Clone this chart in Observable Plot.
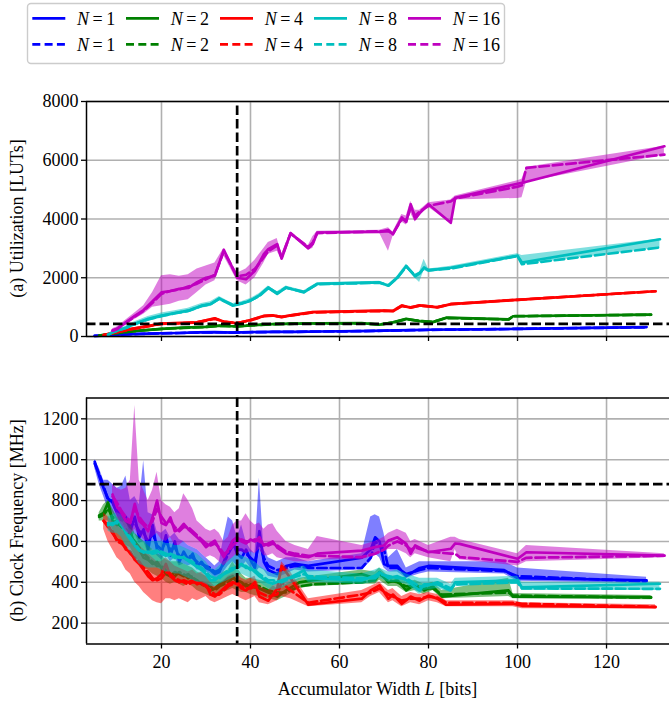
<!DOCTYPE html>
<html>
<head>
<meta charset="utf-8">
<script src="https://cdn.jsdelivr.net/npm/d3@7"></script>
<script src="https://cdn.jsdelivr.net/npm/@observablehq/plot@0.6"></script>
<style>
  body { margin: 0; background: #fff; }
  #wrap { position: relative; width: 669px; height: 702px; overflow: hidden; background: #fff; font-family: 'Liberation Serif', serif; }
  #wrap svg { position: absolute; left: 0; }
  #wrap svg text { font-family: 'Liberation Serif', serif !important; }
</style>
</head>
<body>
<div id="wrap"></div>
<script>
// ---------- categories / ticks ----------
const seriesN = [1, 2, 4, 8, 16];
const seriesColors = ["#0000ff", "#008000", "#ff0000", "#00bfbf", "#bf00bf"];
const xTicks = [20, 40, 60, 80, 100, 120];
const utilTicks = [0, 2000, 4000, 6000, 8000];
const freqTicks = [200, 400, 600, 800, 1000, 1200];
const xDomain = [3.15, 134.15];
const utilDomain = [0, 8000];
const freqDomain = [98, 1302];
const refWidth = 37;      // vertical dashed line (bits)
const refLUT = 430;       // horizontal dashed line, panel (a)
const refFreq = 880;      // horizontal dashed line, panel (b)

// ---------- panel (a) Utilization: rows [L, solid, dashed, low, high] ----------
const util1 = [
  [5,20,20,10,30],[8,40,40,30,50],[10,60,55,45,70],[12,70,70,55,85],[15,90,85,75,105],
  [18,100,100,85,115],[20,110,105,95,125],[24,120,120,105,135],[28,140,135,120,155],
  [32,150,145,130,165],[36,130,135,115,150],[40,150,145,130,165],[45,160,155,140,175],
  [50,160,160,145,175],[56,170,170,155,185],[64,180,180,165,195],[70,200,195,180,215],
  [76,220,215,200,235],[80,230,225,210,245],[96,250,250,235,265],[100,260,260,245,280],
  [129,320,315,300,335]
];
const util2 = [
  [6,30,30,20,40],[10,120,115,100,135],[15,200,195,180,220],[20,260,255,240,280],
  [25,300,295,280,320],[30,330,325,310,350],[33,370,365,345,390],[37,340,345,320,360],
  [40,380,380,360,400],[45,420,420,400,440],[50,440,435,420,460],[56,445,445,425,465],
  [65,455,450,435,475],[69,400,410,380,430],[72,480,470,450,500],[75,600,590,560,620],
  [78,520,530,500,560],[81,490,495,470,520],[84,640,630,610,660],[98,580,580,560,600],
  [99,690,690,670,710],[130,745,740,725,765]
];
const util4 = [
  [7,50,50,35,65],[10,150,145,120,180],[13,250,240,210,280],[16,330,320,290,360],
  [20,440,430,400,470],[24,460,450,420,490],[28,480,480,450,510],[32,620,600,570,650],
  [34,500,510,480,540],[37,450,460,420,480],[40,560,550,520,590],[43,700,690,660,730],
  [45,720,710,680,750],[47,660,670,630,700],[49,720,710,690,750],[54,830,820,800,860],
  [70,880,870,850,910],[72,860,870,840,900],[74,1050,1040,1000,1090],[76,980,990,950,1020],
  [78,1060,1050,1020,1090],[82,990,1000,970,1020],[85,1100,1100,1080,1130],
  [100,1250,1250,1230,1280],[131,1540,1540,1520,1560]
];
const util8 = [
  [8,60,60,40,80],[9,146,140,110,180],[12,300,290,250,350],[14,430,420,370,500],
  [17,600,580,520,680],[20,710,700,620,800],[23,800,790,720,880],[26,880,870,800,960],
  [29,1050,1040,960,1120],[31,1100,1100,1020,1180],[33,1300,1280,1220,1360],
  [36,1050,1080,1000,1120],[38,1120,1130,1060,1180],[40,1220,1230,1150,1290],
  [42,1400,1380,1320,1460],[44,1670,1650,1580,1720],[46,1450,1480,1400,1520],
  [48,1670,1660,1600,1720],[52,1500,1520,1460,1560],[55,1790,1780,1740,1830],
  [69,1840,1830,1800,1880],[71,1730,1740,1690,1770],[73,2000,2000,1950,2060],
  [75,2400,2380,2320,2460],[77,2050,2080,1980,2120],[78,2150,2160,1840,2200],
  [79,2350,2330,2250,2630],[80,2250,2260,2180,2300],[85,2340,2310,2270,2390],
  [100,2750,2740,2680,2820],[101,2520,2460,2440,2760],[132,3310,3030,3020,3320]
];
const util16 = [
  [9,200,200,150,260],[10,260,250,200,320],[12,480,470,400,560],[14,700,680,580,800],
  [16,900,880,760,1050],[18,1200,1150,1000,1500],[20,1500,1450,1050,2070],
  [22,1550,1550,1100,2100],[24,1620,1600,1200,2050],[26,1650,1700,1250,2100],
  [28,1850,1800,1500,2300],[30,2000,1950,1750,2400],[32,2070,2100,1900,2500],
  [34,2950,2900,2750,3000],[37,2000,2050,1900,2150],[39,1950,2100,1750,2300],
  [41,2240,2300,2000,2600],[43,2800,2700,2500,3000],[44,2970,2900,2800,3200],
  [46,3140,3100,2900,3340],[47,2650,2700,2600,2800],[49,3520,3500,3450,3560],
  [53,3000,3050,2950,3100],[54,3150,3200,3000,3400],[55,3540,3520,3500,3580],
  [69,3560,3580,3520,3620],[71,3620,3580,2900,3700],[72,3480,3500,3400,3560],
  [74,4050,4000,3900,4150],[75,3900,3950,3800,4100],[76,4500,4400,4200,4600],
  [77,4000,4100,3900,4300],[78,4200,4250,4100,4300],[80,4500,4450,4400,4550],
  [85,3870,4600,3850,4650],[86,4720,4700,4650,4780],[100,5200,5100,4700,5300],
  [101,5230,5150,4720,5350],[102,5270,5740,5250,5760],[133,6475,6190,6180,6480]
];

// ---------- panel (b) Clock frequency: rows [L, solid, dashed, low, high] ----------
const freq1 = [
  [5,990,980,960,1000],[6,920,930,880,960],[7,860,870,820,900],[8,810,800,760,900],
  [9,790,800,740,880],[10,740,760,700,860],[11,700,720,660,870],[12,720,700,660,920],
  [13,650,680,610,800],[14,720,690,640,820],[15,620,650,590,780],[16,660,640,600,995],
  [17,560,600,540,740],[18,680,640,560,730],[19,560,580,530,650],[20,540,560,510,640],
  [21,630,600,540,660],[22,530,560,500,620],[23,600,570,520,640],[24,500,530,480,610],
  [25,550,520,490,600],[26,510,530,480,580],[27,540,520,490,570],[28,480,500,460,560],
  [29,500,490,460,540],[30,470,480,450,520],[31,460,470,440,500],[32,440,450,420,480],
  [33,450,460,420,500],[34,500,490,450,620],[35,560,540,480,720],[36,600,580,500,700],
  [37,540,560,480,620],[38,520,560,470,680],[39,560,540,500,600],[40,510,520,470,560],
  [41,470,500,440,540],[42,650,600,470,910],[43,500,520,460,560],[44,460,480,430,520],
  [46,440,460,420,500],[48,480,470,440,520],[50,490,480,460,520],[53,480,470,450,500],
  [65,520,470,460,540],[67,560,520,500,720],[68,620,600,540,730],[69,600,580,520,720],
  [70,490,560,470,640],[71,480,470,450,520],[73,480,470,450,560],[75,430,440,420,470],
  [78,470,460,440,500],[80,480,470,450,500],[97,460,455,440,500],[100,420,430,405,470],
  [129,410,405,395,425]
];
const freq2 = [
  [6,727,720,700,740],[7,740,730,700,780],[8,790,760,700,800],[9,700,720,660,760],
  [10,680,690,620,720],[11,690,670,600,720],[12,640,660,580,700],[13,650,630,570,690],
  [14,580,600,530,640],[15,560,570,500,620],[16,520,540,470,600],[17,510,520,460,580],
  [18,490,500,440,560],[19,500,480,430,540],[20,470,480,420,530],[21,440,460,400,510],
  [22,430,440,390,500],[23,450,430,400,500],[24,440,450,390,500],[25,430,440,380,490],
  [26,440,420,390,480],[27,420,430,380,470],[28,410,400,360,450],[29,390,400,350,440],
  [30,380,390,340,430],[31,360,380,330,420],[32,370,360,330,410],[33,390,380,340,430],
  [34,400,390,350,450],[35,420,400,360,460],[36,430,420,370,500],[37,400,410,360,470],
  [38,380,400,350,440],[39,390,380,350,420],[40,380,390,340,420],[42,370,380,330,410],
  [44,350,360,320,400],[46,330,350,310,370],[48,360,350,330,390],[51,400,380,370,420],
  [54,410,390,380,430],[65,440,400,390,460],[68,420,410,390,450],[69,450,440,410,470],
  [71,400,410,380,430],[73,410,400,380,430],[75,360,380,350,400],[77,390,380,360,410],
  [79,360,370,340,390],[81,380,370,360,400],[83,330,340,320,360],[98,360,350,330,420],
  [99,330,335,320,345],[130,327,325,315,335]
];
const freq4 = [
  [7,702,700,660,740],[8,680,670,600,720],[9,640,650,560,700],[10,610,600,520,680],
  [11,600,590,500,660],[12,560,570,460,640],[13,550,540,440,620],[14,510,520,400,600],
  [15,490,500,380,580],[16,460,470,350,560],[17,430,450,330,540],[18,410,420,310,520],
  [19,420,410,300,500],[20,440,420,295,500],[21,490,450,320,520],[22,430,440,320,500],
  [23,410,420,310,480],[24,400,410,320,470],[25,410,400,310,460],[26,400,390,300,450],
  [27,410,400,320,460],[28,390,400,310,440],[29,400,390,320,450],[30,390,380,330,430],
  [31,340,360,310,400],[32,330,340,300,380],[33,350,340,310,390],[35,390,380,330,430],
  [36,400,390,340,440],[37,390,400,330,440],[38,370,380,320,420],[39,360,370,310,410],
  [40,380,370,320,420],[41,400,380,330,430],[42,330,350,300,380],[44,310,330,290,360],
  [46,370,340,310,400],[47,480,400,330,500],[49,420,360,320,450],[53,290,300,280,320],
  [65,320,340,300,360],[67,360,350,330,380],[69,385,370,350,400],[71,320,340,300,360],
  [72,340,330,310,370],[74,295,310,280,330],[76,330,320,300,350],[78,310,320,290,340],
  [80,335,330,310,350],[82,320,325,300,340],[84,290,300,280,310],[99,295,300,280,310],
  [101,285,295,270,300],[131,278,280,270,290]
];
const freq8 = [
  [8,690,680,650,720],[9,680,690,640,730],[10,700,690,640,740],[11,690,680,620,730],
  [12,640,650,580,690],[13,610,620,550,660],[14,580,590,520,640],[15,555,560,490,610],
  [16,550,545,480,600],[17,545,550,470,600],[18,550,540,470,600],[19,555,545,470,600],
  [20,540,550,460,600],[21,530,540,450,590],[22,540,530,450,590],[23,530,520,440,580],
  [24,520,525,440,580],[25,523,515,430,570],[26,505,510,420,560],[27,490,500,410,550],
  [28,475,480,400,540],[29,460,470,400,520],[30,440,450,390,500],[31,410,430,380,470],
  [32,410,420,380,460],[33,430,420,390,480],[34,440,440,400,500],[35,450,460,410,510],
  [36,460,470,420,520],[37,480,470,430,540],[38,490,480,440,530],[39,470,480,430,520],
  [40,470,460,420,510],[41,450,460,410,500],[42,430,440,400,480],[44,400,410,370,450],
  [45,393,410,360,440],[47,410,400,370,450],[49,425,420,390,460],[52,458,440,420,480],
  [53,420,430,400,460],[65,409,420,390,440],[68,433,420,400,460],[69,449,440,420,470],
  [71,420,430,400,450],[73,430,420,400,460],[75,410,420,390,440],[78,360,380,340,420],
  [79,390,380,360,420],[82,390,400,370,420],[85,360,370,350,390],[86,400,390,380,420],
  [100,410,400,390,430],[101,375,370,360,400],[132,393,368,360,400]
];
const freq16 = [
  [9,830,820,780,880],[10,770,790,720,860],[11,740,750,680,850],[12,700,720,650,860],
  [13,690,700,630,900],[14,784,760,660,1265],[15,700,720,630,900],[16,680,690,610,850],
  [17,650,670,600,800],[18,720,700,620,850],[19,800,760,640,938],[20,690,720,610,800],
  [21,680,690,600,780],[22,718,700,620,767],[23,650,670,580,740],[24,660,650,580,760],
  [25,686,670,600,833],[26,660,670,580,800],[27,640,650,570,760],[28,620,630,560,700],
  [29,600,610,540,680],[30,572,590,520,660],[31,590,580,530,650],[32,604,590,520,660],
  [33,560,570,500,640],[34,523,540,480,600],[35,560,550,500,620],[36,604,580,520,680],
  [37,621,600,540,700],[38,600,610,550,700],[39,590,600,540,735],[40,610,600,550,700],
  [41,600,610,540,680],[42,621,600,560,690],[43,580,590,530,660],[44,590,580,530,680],
  [45,600,590,540,686],[46,570,580,520,650],[48,540,550,510,600],[50,530,540,500,580],
  [53,523,530,500,560],[55,540,530,510,624],[65,555,523,510,580],[68,572,540,530,600],
  [70,580,560,550,620],[71,604,580,560,640],[73,620,600,560,660],[75,588,580,540,640],
  [76,540,560,520,600],[77,580,570,540,610],[80,547,550,520,580],[85,564,540,500,620],
  [86,590,540,560,620],[87,588,523,510,610],[100,515,500,480,540],[102,547,520,500,580],
  [133,531,530,520,540]
];

const utilSeries = [util1, util2, util4, util8, util16];
const freqSeries = [freq1, freq2, freq4, freq8, freq16];

// ---------- drawing ----------
const FONT = "'Liberation Serif', serif";
const wrapEl = document.getElementById("wrap");

function toRows(arr, n) {
  return arr.map(([L, s, d, lo, hi]) => ({L, s, d, lo, hi, n}));
}

function makePanel({series, yDomain, yTicks, hRef, xLabels, height, marginTop, marginBottom, vOffset}) {
  const marks = [
    Plot.gridX(xTicks, {stroke: "#b0b0b0", strokeOpacity: 1, strokeWidth: 1.6}),
    Plot.gridY(yTicks, {stroke: "#b0b0b0", strokeOpacity: 1, strokeWidth: 1.6})
  ];
  series.forEach((arr, i) => {
    const rows = toRows(arr, seriesN[i]);
    const c = seriesColors[i];
    marks.push(Plot.areaY(rows, {x: "L", y1: "lo", y2: "hi", fill: c, fillOpacity: 0.5}));
    marks.push(Plot.line(rows, {x: "L", y: "s", stroke: c, strokeWidth: 2.7, strokeLinejoin: "round"}));
    marks.push(Plot.line(rows, {x: "L", y: "d", stroke: c, strokeWidth: 2.7, strokeDasharray: "9.5,4"}));
  });
  marks.push(
    Plot.ruleX([refWidth], {stroke: "black", strokeWidth: 2.7, strokeDasharray: "9.5,4", strokeDashoffset: vOffset}),
    Plot.ruleY([hRef], {stroke: "black", strokeWidth: 2.7, strokeDasharray: "9.5,4"}),
    Plot.ruleY([yDomain[1]], {stroke: "black", strokeWidth: 1.5}),
    Plot.ruleY([yDomain[0]], {stroke: "black", strokeWidth: 1.5}),
    Plot.ruleX([xDomain[0]], {stroke: "black", strokeWidth: 1.5}),
    Plot.axisY(yTicks, {tickSize: 5, tickPadding: 3, tickFormat: d => String(d), label: null, fontSize: 18, strokeWidth: 1.3}),
    Plot.axisX(xTicks, {tickSize: 5, tickPadding: 6, tickFormat: xLabels ? (d => String(d)) : (() => ""), label: null, fontSize: 18, strokeWidth: 1.3})
  );
  return Plot.plot({
    width: 669,
    height,
    marginLeft: 86,
    marginRight: 0,
    marginTop,
    marginBottom,
    x: {domain: xDomain, label: null},
    y: {domain: yDomain, label: null},
    style: {fontFamily: FONT, fontSize: "18px", color: "black", background: "transparent", overflow: "visible"},
    marks
  });
}

const topPlot = makePanel({series: utilSeries, yDomain: utilDomain, yTicks: utilTicks, hRef: refLUT, xLabels: false, height: 290, marginTop: 31, marginBottom: 24, vOffset: 9});
topPlot.style.top = "70px";
wrapEl.appendChild(topPlot);

const bottomPlot = makePanel({series: freqSeries, yDomain: freqDomain, yTicks: freqTicks, hRef: refFreq, xLabels: true, height: 342, marginTop: 37.5, marginBottom: 58.5, vOffset: 0});
bottomPlot.style.top = "360px";
wrapEl.appendChild(bottomPlot);

// ---------- overlay: legend and axis titles ----------
const ov = d3.select(wrapEl).append("svg")
  .attr("width", 669).attr("height", 702)
  .style("top", "0px").style("pointer-events", "none")
  .style("font-family", FONT);

const legendX = [32.3, 126, 220, 314, 408];
ov.append("rect").attr("x", 27.5).attr("y", 3.5).attr("width", 477).attr("height", 60)
  .attr("rx", 3.5).attr("fill", "white").attr("fill-opacity", 0.85)
  .attr("stroke", "#cccccc").attr("stroke-width", 1.4);
seriesN.forEach((n, i) => {
  [[18.3, null], [44.3, "8,4.3"]].forEach(([y, dash]) => {
    ov.append("line").attr("x1", legendX[i]).attr("x2", legendX[i] + 33)
      .attr("y1", y).attr("y2", y)
      .attr("stroke", seriesColors[i]).attr("stroke-width", 2.7)
      .attr("stroke-dasharray", dash);
    const t = ov.append("text").attr("x", legendX[i] + 44.7).attr("y", y + 6.2)
      .style("font-size", "18px").attr("fill", "black");
    t.append("tspan").style("font-style", "italic").text("N");
    t.append("tspan").text("\u2009=\u2009" + n);
  });
});

ov.append("text").attr("transform", "translate(17,218.5) rotate(-90)")
  .attr("text-anchor", "middle").attr("dominant-baseline", "central")
  .style("font-size", "18px").text("(a) Utilization [LUTs]");
ov.append("text").attr("transform", "translate(17,520.5) rotate(-90)")
  .attr("text-anchor", "middle").attr("dominant-baseline", "central")
  .style("font-size", "18px").text("(b) Clock Frequency [MHz]");

const xl = ov.append("text").attr("x", 377.5).attr("y", 695)
  .attr("text-anchor", "middle").style("font-size", "18px");
xl.append("tspan").text("Accumulator Width ");
xl.append("tspan").style("font-style", "italic").text("L");
xl.append("tspan").text(" [bits]");
</script>
</body>
</html>
